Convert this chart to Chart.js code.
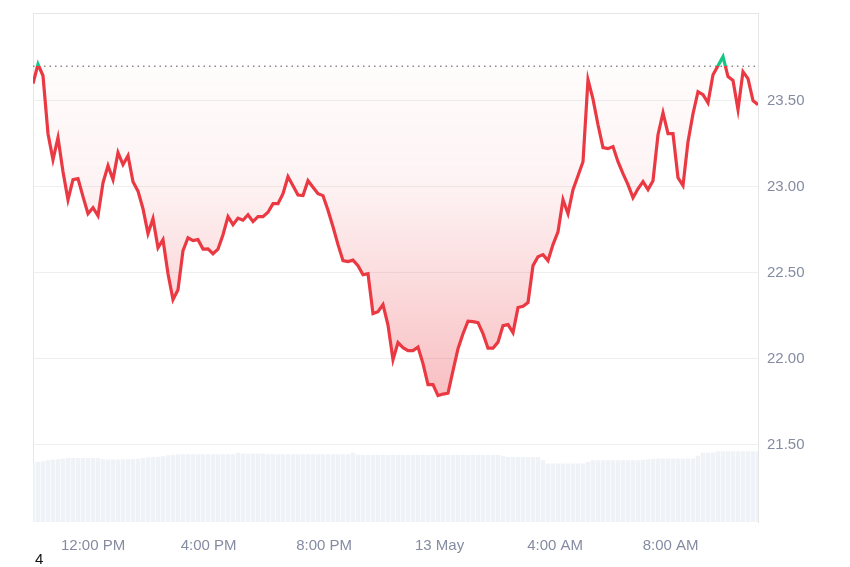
<!DOCTYPE html>
<html>
<head>
<meta charset="utf-8">
<title>Price chart</title>
<script src="https://cdn.jsdelivr.net/npm/chart.js@4.4.1/dist/chart.umd.min.js"></script>
<style>
  html, body { margin: 0; padding: 0; background: #ffffff; }
  #wrap { position: relative; width: 850px; height: 567px; }
  #footnote {
    position: absolute; left: 35px; top: 550px;
    font-family: "Liberation Sans", Arial, sans-serif; font-size: 15px; color: #111;
  }
</style>
</head>
<body>
<div id="wrap">
  <canvas id="priceChart"></canvas>
  <div id="footnote">4</div>
</div>
<script>
// Time grid (hours since 00:00 on 12 May)
const startHour = 9.92;
const stepHours = 0.17316;

// Price series, one value per step
const prices = [
  23.60, 23.712, 23.645, 23.308, 23.157, 23.285, 23.087, 22.924, 23.041, 23.047,
  22.942, 22.843, 22.878, 22.831, 23.023, 23.122, 23.041, 23.198, 23.128, 23.180,
  23.029, 22.974, 22.872, 22.727, 22.814, 22.645, 22.692, 22.494, 22.343, 22.401,
  22.628, 22.703, 22.686, 22.692, 22.637, 22.638, 22.610, 22.637, 22.721, 22.826,
  22.779, 22.817, 22.805, 22.837, 22.797, 22.826, 22.826, 22.851, 22.901, 22.901,
  22.959, 23.058, 23.006, 22.951, 22.948, 23.035, 22.997, 22.959, 22.948, 22.863,
  22.767, 22.663, 22.570, 22.564, 22.573, 22.541, 22.488, 22.494, 22.262, 22.273,
  22.314, 22.195, 21.994, 22.093, 22.064, 22.047, 22.047, 22.067, 21.971, 21.849,
  21.849, 21.785, 21.794, 21.799, 21.930, 22.058, 22.145, 22.218, 22.215, 22.209,
  22.145, 22.061, 22.061, 22.096, 22.192, 22.198, 22.151, 22.297, 22.305, 22.326,
  22.541, 22.593, 22.605, 22.570, 22.663, 22.738, 22.924, 22.843, 22.983, 23.064,
  23.145, 23.622, 23.509, 23.360, 23.227, 23.221, 23.233, 23.145, 23.076, 23.012,
  22.936, 22.988, 23.029, 22.983, 23.035, 23.302, 23.430, 23.308, 23.308, 23.052,
  23.006, 23.262, 23.424, 23.552, 23.535, 23.488, 23.651, 23.703, 23.756, 23.640,
  23.618, 23.448, 23.669, 23.628, 23.500, 23.477
];

// Traded volume per step (millions)
const volumes = [
  60, 60.5, 61, 62, 62.7, 63, 63.5, 64.3, 64.3, 64.3,
  64.3, 64.3, 64.3, 64.3, 63, 62.7, 62.7, 62.7, 63, 63,
  63.2, 63.5, 64.3, 65, 65.3, 65.5, 66, 67, 67.5, 68,
  68, 68, 68, 68, 68, 68, 68, 68, 68, 68,
  68, 69.7, 68.7, 68.7, 68.7, 68.7, 68.7, 68, 68, 68,
  68, 68, 68, 68, 68, 68, 68, 68, 68, 68,
  68, 68, 68, 68, 69.5, 67.5, 67.5, 67.5, 67.5, 67.5,
  67.5, 67.5, 67.5, 67.5, 67.5, 67.5, 67.5, 67.5, 67.5, 67.5,
  67.5, 67.5, 67.5, 67.5, 67.5, 67.5, 67.5, 67.5, 67.5, 67.5,
  67.5, 67.5, 67.5, 67.5, 66.5, 65.3, 65.3, 65.3, 65.3, 65.3,
  65.3, 65.3, 62, 58.7, 58.7, 58.7, 58.7, 58.7, 58.7, 58.7,
  58.7, 60.5, 62, 62, 62, 62, 62, 62, 62, 62,
  62, 62, 62.5, 63, 63.3, 63.7, 63.7, 63.7, 63.7, 63.7,
  63.7, 63.7, 63.7, 66.5, 69.7, 69.7, 69.7, 71, 71, 71,
  71, 71, 71, 71, 71, 71
];

// Reference price (dotted line)
const basePrice = 23.70;

// Axis ticks
const priceTicks = [21.5, 22.0, 22.5, 23.0, 23.5];
const timeTicks = [12, 16, 20, 24, 28, 32];
const timeLabels = ['12:00 PM', '4:00 PM', '8:00 PM', '13 May', '4:00 AM', '8:00 AM'];

const RED = '#ea3943';
const GREEN = '#16c784';
const AXIS_TEXT = '#858ca2';

document.addEventListener('DOMContentLoaded', function() {
  initChart();
});

// Line colour switches from red to green above the reference price
function lineColor(context) {
  const chart = context.chart;
  const area = chart.chartArea;
  if (!area) return RED;
  const yBase = chart.scales.y.getPixelForValue(basePrice);
  const stop = Math.min(Math.max((yBase - area.top) / (area.bottom - area.top), 0), 1);
  const g = chart.ctx.createLinearGradient(0, area.top, 0, area.bottom);
  g.addColorStop(0, GREEN);
  g.addColorStop(stop, GREEN);
  g.addColorStop(stop, RED);
  g.addColorStop(1, RED);
  return g;
}

// Pink fill that gets stronger towards the lows
function fillColor(context) {
  const chart = context.chart;
  const area = chart.chartArea;
  if (!area) return 'rgba(234,57,67,0.1)';
  const y = chart.scales.y;
  const top = y.getPixelForValue(basePrice);
  const low = y.getPixelForValue(Math.min(...prices));
  const g = chart.ctx.createLinearGradient(0, top, 0, low);
  g.addColorStop(0, 'rgba(234,57,67,0.015)');
  g.addColorStop(0.35, 'rgba(234,57,67,0.06)');
  g.addColorStop(1, 'rgba(234,57,67,0.32)');
  return g;
}

// Thin frame on the left and top of the plot
const framePlugin = {
  id: 'frame',
  beforeDatasetsDraw(chart) {
    const { ctx, chartArea } = chart;
    ctx.save();
    ctx.strokeStyle = '#e6e6e6';
    ctx.lineWidth = 1;
    ctx.beginPath();
    ctx.moveTo(chartArea.left + 0.5, chartArea.bottom);
    ctx.lineTo(chartArea.left + 0.5, chartArea.top + 0.5);
    ctx.lineTo(chartArea.right, chartArea.top + 0.5);
    ctx.stroke();
    ctx.restore();
  }
};

function initChart() {
  const ctx = document.getElementById('priceChart').getContext('2d');

  const lastHour = startHour + (prices.length - 1) * stepHours;
  const pricePoints = prices.map((p, i) => ({ x: startHour + i * stepHours, y: p }));
  const volumePoints = volumes.map((v, i) => ({ x: startHour + i * stepHours, y: v }));

  new Chart(ctx, {
    type: 'line',
    data: {
      datasets: [
        {
          label: 'Price',
          data: pricePoints,
          borderColor: lineColor,
          backgroundColor: fillColor,
          borderWidth: 3.2,
          pointRadius: 0,
          tension: 0,
          fill: { value: basePrice },
          order: 1
        },
        {
          label: 'Reference',
          data: [{ x: startHour, y: basePrice }, { x: lastHour, y: basePrice }],
          borderColor: '#8a8a8a',
          borderWidth: 1.5,
          borderDash: [1.5, 4],
          pointRadius: 0,
          fill: false,
          order: 2
        },
        {
          type: 'bar',
          label: 'Volume',
          data: volumePoints,
          yAxisID: 'y2',
          backgroundColor: '#eff2f6',
          barPercentage: 0.9,
          categoryPercentage: 1,
          order: 3
        }
      ]
    },
    options: {
      responsive: true,
      maintainAspectRatio: false,
      animation: false,
      layout: { padding: { left: 33, top: 13, right: 0, bottom: 0 } },
      plugins: {
        legend: { display: false },
        tooltip: { enabled: false }
      },
      scales: {
        x: {
          type: 'linear',
          min: startHour,
          max: lastHour,
          offset: false,
          grid: { display: false, drawTicks: false },
          border: { display: false },
          afterBuildTicks: function(axis) {
            axis.ticks = timeTicks.map(v => ({ value: v }));
          },
          afterFit: function(axis) {
            axis.height = 45;
            axis.paddingLeft = 0;
            axis.paddingRight = 0;
          },
          ticks: {
            autoSkip: false,
            maxRotation: 0,
            padding: 15,
            color: AXIS_TEXT,
            font: { family: 'Liberation Sans', size: 15 },
            callback: function(value) {
              const i = timeTicks.indexOf(value);
              return i >= 0 ? timeLabels[i] : '';
            }
          }
        },
        y: {
          position: 'right',
          min: 21.05,
          max: 24.01,
          grid: { color: '#efefef', drawTicks: false },
          border: { display: true, color: '#e6e6e6' },
          afterBuildTicks: function(axis) {
            axis.ticks = priceTicks.map(v => ({ value: v }));
          },
          afterFit: function(axis) {
            axis.width = 92;
            axis.paddingTop = 0;
            axis.paddingBottom = 0;
          },
          ticks: {
            padding: 9,
            color: AXIS_TEXT,
            font: { family: 'Liberation Sans', size: 15 },
            callback: function(value) {
              return value.toFixed(2);
            }
          }
        },
        y2: {
          display: false,
          min: 0,
          // keep the volume bars in the bottom strip of the plot
          max: 7.2 * Math.max(...volumes)
        }
      }
    },
    plugins: [framePlugin]
  });
}
</script>
</body>
</html>
